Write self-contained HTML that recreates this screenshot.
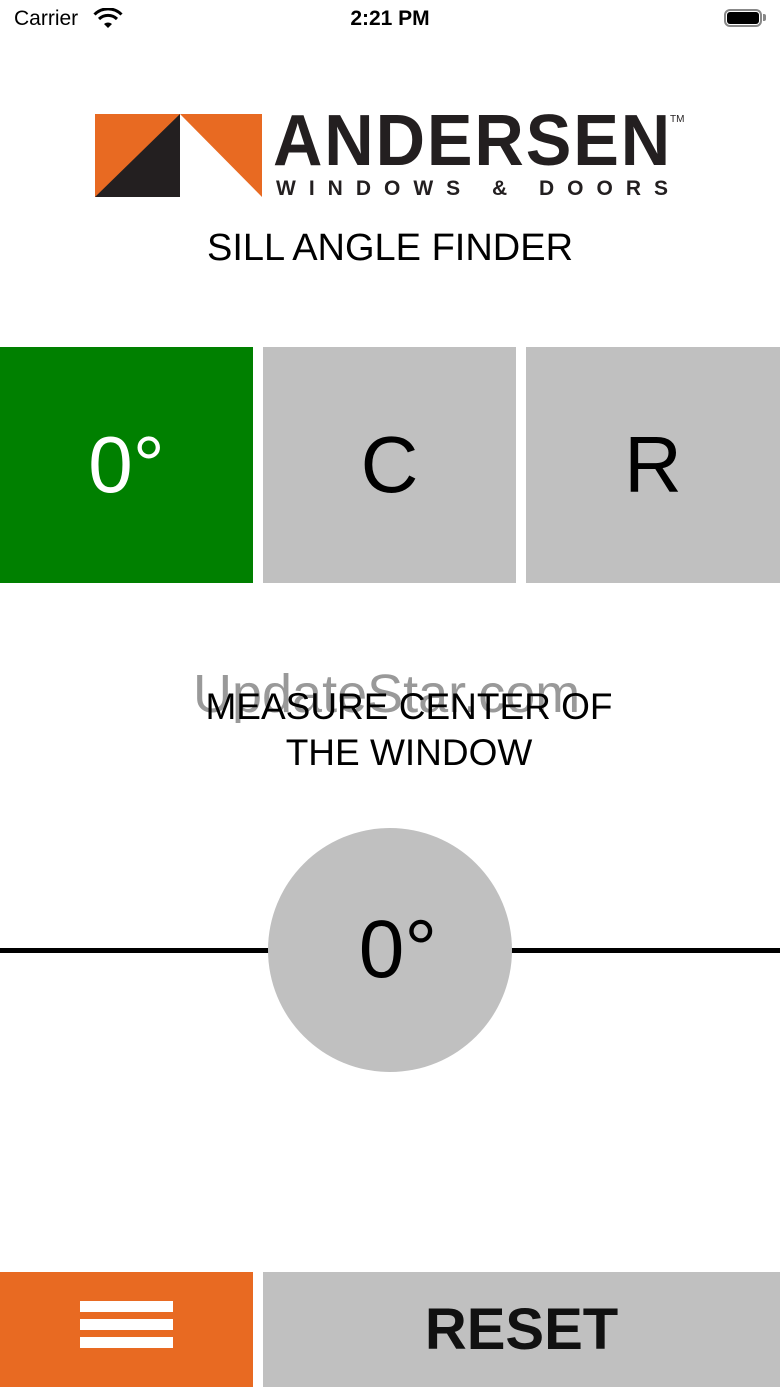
<!DOCTYPE html>
<html><head><meta charset="utf-8"><style>
body{margin:0;width:780px;height:1387px;position:relative;background:#fff;font-family:"Liberation Sans",sans-serif;overflow:hidden}
.a{position:absolute}
.c{display:flex;align-items:center;justify-content:center}
</style></head><body>
<div class="a" style="left:14px;top:7px;font-size:21px">Carrier</div>
<svg class="a" style="left:93px;top:8px" width="30" height="22" viewBox="0 0 30 22"><path d="M15 20 L11 16 A6 6 0 0 1 19 16Z" fill="#000"/><path d="M6 11 A13 13 0 0 1 24 11" stroke="#000" stroke-width="3" fill="none"/><path d="M1.5 6.5 A19 19 0 0 1 28.5 6.5" stroke="#000" stroke-width="3" fill="none"/></svg>
<div class="a" style="left:0;width:780px;top:7px;text-align:center;font-size:21px;font-weight:bold">2:21 PM</div>
<div class="a" style="left:724px;top:9px;width:38px;height:18px;border:2px solid #888;border-radius:6px;box-sizing:border-box"></div>
<div class="a" style="left:727px;top:12px;width:32px;height:12px;background:#000;border-radius:3px"></div>
<div class="a" style="left:763px;top:14px;width:3px;height:7px;background:#888;border-radius:0 2px 2px 0"></div>

<svg class="a" style="left:95px;top:114px" width="167" height="83"><rect width="167" height="83" fill="#e86a22"/><polygon points="0,83 85,0 85,83" fill="#231f20"/><polygon points="85,0 167,83 85,83" fill="#fff"/></svg>
<div class="a" style="left:273px;top:101px;font-size:72px;font-weight:bold;color:#231f20;letter-spacing:2px;line-height:80px;transform:scaleX(0.95);transform-origin:left">ANDERSEN</div>
<div class="a" style="left:670px;top:114px;font-size:10px;color:#231f20">TM</div>
<div class="a" style="left:276px;top:178px;font-size:21px;font-weight:bold;color:#231f20;letter-spacing:13px;line-height:22px">WINDOWS &amp; DOORS</div>
<div class="a" style="left:0;width:780px;top:227px;text-align:center;font-size:38px;line-height:42px">SILL ANGLE FINDER</div>

<div class="a c" style="left:0;top:347px;width:253px;height:236px;background:#008000;color:#fff;font-size:80px">0°</div>
<div class="a c" style="left:263px;top:347px;width:253px;height:236px;background:#c0c0c0;font-size:80px">C</div>
<div class="a c" style="left:526px;top:347px;width:254px;height:236px;background:#c0c0c0;font-size:80px">R</div>

<div class="a" style="left:193px;top:664px;font-size:54px;color:#999;line-height:60px">UpdateStar.com</div>
<div class="a" style="left:0;width:818px;top:684px;text-align:center;font-size:37px;line-height:46px">MEASURE CENTER OF<br>THE WINDOW</div>

<div class="a" style="left:0;top:948px;width:780px;height:5px;background:#000"></div>
<div class="a c" style="left:268px;top:828px;width:244px;height:244px;border-radius:50%;background:#c0c0c0;font-size:82px;padding-left:16px;box-sizing:border-box">0°</div>

<div class="a" style="left:0;top:1272px;width:253px;height:115px;background:#e86a22"></div>
<div class="a" style="left:80px;top:1301px;width:93px;height:11px;background:#fff"></div>
<div class="a" style="left:80px;top:1319px;width:93px;height:11px;background:#fff"></div>
<div class="a" style="left:80px;top:1337px;width:93px;height:11px;background:#fff"></div>
<div class="a c" style="left:263px;top:1272px;width:517px;height:115px;background:#c0c0c0;font-size:58px;font-weight:bold;color:#111">RESET</div>
</body></html>
